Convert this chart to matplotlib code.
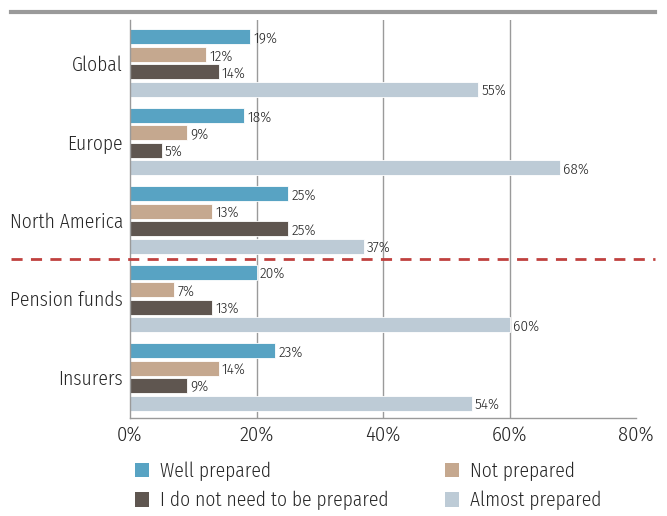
import numpy as np
import matplotlib
matplotlib.use('Agg')
from matplotlib import pyplot as plt
from matplotlib.patches import Patch
from matplotlib.lines import Line2D

plt.rcParams['font.family'] = ['Fira Sans Condensed', 'DejaVu Sans']
plt.rcParams['font.weight'] = 300

# データ
groups = ['Global', 'Europe', 'North America', 'Pension funds', 'Insurers']
series = ['Well prepared', 'Not prepared', 'I do not need to be prepared', 'Almost prepared']
well = [19, 18, 25, 20, 23]
notp = [12, 9, 13, 7, 14]
noneed = [14, 5, 25, 13, 9]
almost = [55, 68, 37, 60, 54]
colors = ['#58a3c3', '#c5a88f', '#5f5650', '#bdcbd6']
xticks = [0, 20, 40, 60, 80]

values = [well, notp, noneed, almost]
text_c = '#262626'

fig = plt.figure(figsize=(6.67, 5.16), dpi=100)
ax = fig.add_axes([130 / 667, 1 - 418 / 516, 506 / 667, 398 / 516])

# グリッド線（20, 40, 60%のみ）
for t in xticks[1:-1]:
    ax.axvline(t, color='#9a9a9a', linewidth=1, zorder=1)

gap = 4.5
for k, vals in enumerate(values):
    ys = np.arange(len(groups)) * gap + k
    ax.barh(ys, vals, height=0.86, color=colors[k], edgecolor='white',
            linewidth=0.6, zorder=2)
    for y, v in zip(ys, vals):
        ax.text(v + 0.5, y + 0.1, f'{v}%', va='center', ha='left',
                fontsize=11, color=text_c, zorder=4)

# 軸設定
ax.set_xlim(0, 80)
ax.set_ylim(21.86, -0.975)
ax.set_xticks(xticks)
ax.set_xticklabels([f'{t}%' for t in xticks], fontsize=15, color=text_c)
ax.set_yticks(np.arange(len(groups)) * gap + 1.5)
ax.set_yticklabels(groups, fontsize=14, color=text_c)
ax.tick_params(axis='both', length=0, pad=5)
ax.tick_params(axis='y', pad=5)
for s in ['top', 'right']:
    ax.spines[s].set_visible(False)
for s in ['left', 'bottom']:
    ax.spines[s].set_color('#9a9a9a')
    ax.spines[s].set_linewidth(1)

# 区切り線
ax.plot([-0.235, 1.0375], [12.75, 12.75], transform=ax.get_yaxis_transform(),
        color='#c0413f', linestyle=(0, (4, 3)), linewidth=2, clip_on=False, zorder=5)
fig.add_artist(Line2D([11 / 667, 655 / 667], [1 - 12 / 516, 1 - 12 / 516],
                      color='#9a9a9a', linewidth=3))

# 凡例（行ごとに並べるため列順に並べ替え）
order = [0, 2, 1, 3]
handles = [Patch(facecolor=colors[i], edgecolor='none') for i in order]
fig.legend(handles, [series[i] for i in order], ncol=2, loc='upper left',
           bbox_to_anchor=(117 / 667, 1 - 444 / 516), frameon=False,
           fontsize=14, handlelength=0.75, handleheight=0.75, handletextpad=0.55,
           columnspacing=2.9, labelspacing=0.5, labelcolor=text_c)

fig.savefig('out.png', dpi=100)
